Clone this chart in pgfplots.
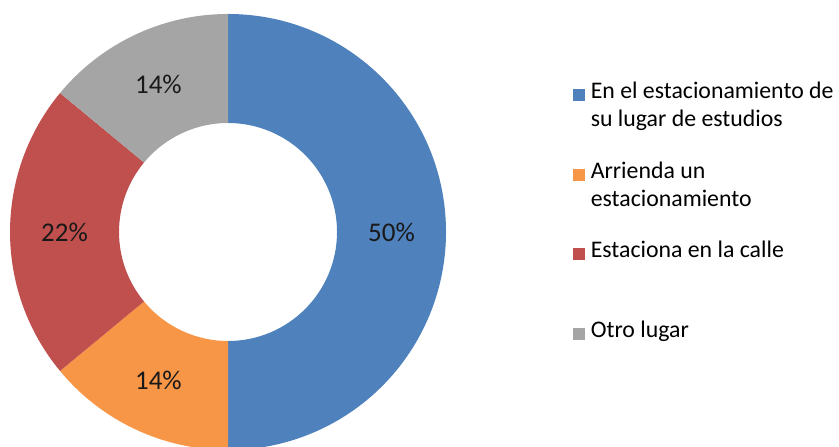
\documentclass[border=0pt]{standalone}
\usepackage{fontspec}
\setmainfont{Carlito}
\usepackage{pgfplots}
\usepackage{pgfplotstable}
\pgfplotsset{compat=1.18}

\definecolor{cBlue}{HTML}{4F81BD}
\definecolor{cOrange}{HTML}{F79646}
\definecolor{cRed}{HTML}{C0504D}
\definecolor{cGray}{HTML}{A5A5A5}

% share of each answer, in percent (clockwise from the top)
\pgfplotstableread{
value colour
50 cBlue
14 cOrange
22 cRed
14 cGray
}\piedata

\begin{document}
\begin{tikzpicture}
\begin{axis}[
    name=pie,
    hide axis,
    scale only axis,
    width=419.5pt, height=223.5pt,
    xmin=-1.0459, xmax=2.8028,
    ymin=-0.9862, ymax=1.0642,
    legend image code/.code={\fill[#1] (0pt,2.5pt) rectangle (5.5pt,8pt);},
    legend style={draw=none, fill=none, at={(axis cs:1.5826,0.688)}, anchor=north west,
        inner sep=0pt, outer sep=0pt,
        font=\fontsize{11.9}{14}\selectfont, cells={align=left},
        nodes={inner sep=0pt}, row sep=16pt, column sep=3pt},
    legend cell align=left,
]
\xdef\cum{0}
\pgfplotsinvokeforeach{0,...,3}{
    \pgfplotstablegetelem{#1}{value}\of\piedata \let\val\pgfplotsretval
    \pgfplotstablegetelem{#1}{colour}\of\piedata \let\col\pgfplotsretval
    \pgfmathsetmacro\sa{90-3.6*\cum}
    \pgfmathsetmacro\ea{90-3.6*(\cum+\val)}
    \pgfmathsetmacro\ma{(\sa+\ea)/2}
    \pgfmathsetmacro\newcum{\cum+\val}
    \xdef\cum{\newcum}
    \edef\cmd{
        \noexpand\fill[\col] (axis cs:{cos(\sa)},{sin(\sa)}) arc[start angle=\sa, end angle=\ea, radius=109pt]
            -- (axis cs:{0.5*cos(\ea)},{0.5*sin(\ea)}) arc[start angle=\ea, end angle=\sa, radius=54.5pt] -- cycle;
        \noexpand\node[font=\noexpand\fontsize{13.5}{16}\noexpand\selectfont, text=black!90]
            at (axis cs:{0.75*cos(\ma)},{0.75*sin(\ma)}) {\val\noexpand\%};
    }
    \cmd
}
\addlegendimage{cBlue}
\addlegendimage{cOrange}
\addlegendimage{cRed}
\addlegendimage{cGray}
\legend{{En el estacionamiento de\\su lugar de estudios},
        {Arrienda un\\estacionamiento},
        {Estaciona en la calle\\\strut},
        {Otro lugar\\\strut}}
\end{axis}
\pgfresetboundingbox
\path (pie.south west) rectangle (pie.north east);
\end{tikzpicture}
\end{document}
